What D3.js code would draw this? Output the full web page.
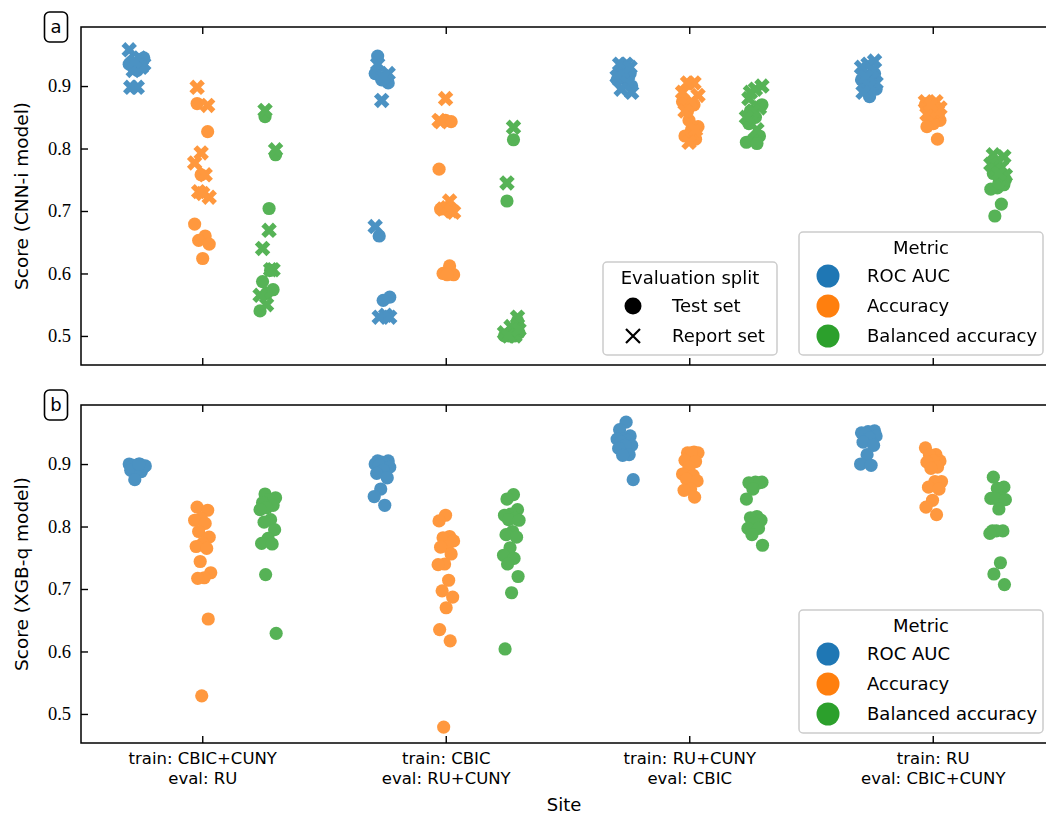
<!DOCTYPE html>
<html>
<head>
<meta charset="utf-8">
<script src="https://cdn.jsdelivr.net/npm/d3@7"></script>
<style>
  body { margin: 0; background: #fff; }
  svg { display: block; }
  .sans { font-family: "DejaVu Sans", sans-serif; }
  .serif { font-family: "Liberation Serif", "DejaVu Serif", serif; }
</style>
</head>
<body>
<svg id="chart" width="1046" height="815"></svg>
<script>
// categories
var trainLabels = ['train: CBIC+CUNY', 'train: CBIC', 'train: RU+CUNY', 'train: RU'];
var evalLabels = ['eval: RU', 'eval: RU+CUNY', 'eval: CBIC', 'eval: CBIC+CUNY'];
var metrics = ['ROC AUC', 'Accuracy', 'Balanced accuracy'];
var splits = ['Test set', 'Report set'];
var yTicks = [0.5, 0.6, 0.7, 0.8, 0.9];

// CNN-i model, test set (one list per site)
var cnnTestRoc = [
    [0.935, 0.94, 0.93, 0.945, 0.925, 0.938, 0.932, 0.928],
    [0.948, 0.905, 0.91, 0.92, 0.915, 0.66, 0.562, 0.557],
    [0.93, 0.925, 0.92, 0.915, 0.91, 0.905, 0.92, 0.9],
    [0.92, 0.915, 0.91, 0.905, 0.9, 0.895, 0.883, 0.912]
];
var cnnTestAcc = [
    [0.872, 0.827, 0.758, 0.679, 0.66, 0.653, 0.647, 0.624],
    [0.845, 0.767, 0.612, 0.6, 0.598, 0.598, 0.703, 0.843],
    [0.87, 0.86, 0.835, 0.83, 0.82, 0.815, 0.845, 0.875],
    [0.87, 0.86, 0.85, 0.845, 0.84, 0.835, 0.815, 0.855]
];
var cnnTestBal = [
    [0.851, 0.79, 0.704, 0.587, 0.574, 0.568, 0.54, 0.605],
    [0.814, 0.716, 0.524, 0.5, 0.5, 0.5, 0.5, 0.505],
    [0.87, 0.85, 0.84, 0.82, 0.815, 0.81, 0.808, 0.86],
    [0.76, 0.742, 0.737, 0.735, 0.711, 0.692, 0.75, 0.745]
];

// CNN-i model, report set
var cnnReportRoc = [
    [0.958, 0.945, 0.925, 0.935, 0.898, 0.898, 0.93, 0.94],
    [0.935, 0.92, 0.877, 0.675, 0.533, 0.53, 0.53, 0.915],
    [0.935, 0.935, 0.93, 0.92, 0.915, 0.905, 0.895, 0.89],
    [0.94, 0.935, 0.93, 0.925, 0.915, 0.905, 0.9, 0.89]
];
var cnnReportAcc = [
    [0.898, 0.869, 0.793, 0.777, 0.758, 0.731, 0.722, 0.728],
    [0.88, 0.845, 0.716, 0.703, 0.698, 0.705, 0.843, 0.7],
    [0.905, 0.905, 0.885, 0.875, 0.86, 0.83, 0.81, 0.89],
    [0.875, 0.875, 0.87, 0.865, 0.86, 0.855, 0.86, 0.87]
];
var cnnReportBal = [
    [0.861, 0.798, 0.669, 0.64, 0.606, 0.55, 0.565, 0.606],
    [0.834, 0.745, 0.53, 0.515, 0.505, 0.5, 0.5, 0.51],
    [0.9, 0.895, 0.88, 0.865, 0.86, 0.85, 0.83, 0.89],
    [0.79, 0.787, 0.78, 0.775, 0.77, 0.765, 0.757, 0.76]
];

// XGB-q model, test set
var xgbRoc = [
    [0.9, 0.9, 0.898, 0.895, 0.893, 0.89, 0.888, 0.875, 0.897, 0.9],
    [0.905, 0.905, 0.903, 0.9, 0.9, 0.898, 0.895, 0.89, 0.885, 0.878, 0.86, 0.848, 0.834],
    [0.967, 0.955, 0.945, 0.94, 0.94, 0.938, 0.935, 0.93, 0.93, 0.925, 0.915, 0.914, 0.875],
    [0.953, 0.952, 0.95, 0.95, 0.948, 0.945, 0.942, 0.935, 0.93, 0.915, 0.9, 0.898]
];
var xgbAcc = [
    [0.831, 0.826, 0.813, 0.81, 0.805, 0.792, 0.783, 0.773, 0.768, 0.765, 0.744, 0.726, 0.718, 0.717, 0.652, 0.529],
    [0.818, 0.809, 0.784, 0.782, 0.777, 0.768, 0.767, 0.756, 0.74, 0.739, 0.714, 0.697, 0.687, 0.67, 0.635, 0.617, 0.479],
    [0.919, 0.918, 0.918, 0.918, 0.906, 0.904, 0.895, 0.884, 0.882, 0.876, 0.873, 0.86, 0.858, 0.847],
    [0.926, 0.915, 0.915, 0.905, 0.905, 0.903, 0.895, 0.893, 0.872, 0.872, 0.863, 0.86, 0.842, 0.831, 0.819]
];
var xgbBal = [
    [0.852, 0.846, 0.843, 0.838, 0.834, 0.83, 0.827, 0.811, 0.807, 0.795, 0.781, 0.773, 0.772, 0.723, 0.629],
    [0.851, 0.844, 0.827, 0.82, 0.818, 0.813, 0.811, 0.81, 0.792, 0.787, 0.783, 0.766, 0.754, 0.749, 0.74, 0.72, 0.694, 0.604],
    [0.871, 0.871, 0.87, 0.87, 0.86, 0.844, 0.816, 0.814, 0.81, 0.805, 0.797, 0.797, 0.787, 0.77],
    [0.879, 0.863, 0.861, 0.845, 0.845, 0.845, 0.843, 0.828, 0.793, 0.793, 0.793, 0.789, 0.742, 0.724, 0.707]
];

var colors = ['#1f77b4', '#ff7f0e', '#2ca02c'];

var svg = d3.select('#chart');
var left = 81, right = 1055;

var x = d3.scaleBand().domain(trainLabels).range([left, right]).padding(0);
var dodge = d3.scalePoint().domain(metrics).range([-0.267 * x.step(), 0.267 * x.step()]);
var color = d3.scaleOrdinal().domain(metrics).range(colors);

// flatten lists into points; jitter is a fixed sequence, not random
function toPoints(lists, metric, split) {
    var out = [];
    lists.forEach(function(vals, s) {
        vals.forEach(function(v, i) {
            var j = ((i * 0.618034 + s * 0.29 + metrics.indexOf(metric) * 0.17) % 1) - 0.5;
            out.push({ site: trainLabels[s], metric: metric, split: split, v: v, j: j });
        });
    });
    return out;
}

var panels = [{
    top: 27, bottom: 365, tag: 'a', ylabel: 'Score (CNN-i model)', xlabels: false,
    points: [].concat(
        toPoints(cnnTestRoc, metrics[0], splits[0]),
        toPoints(cnnTestAcc, metrics[1], splits[0]),
        toPoints(cnnTestBal, metrics[2], splits[0]),
        toPoints(cnnReportRoc, metrics[0], splits[1]),
        toPoints(cnnReportAcc, metrics[1], splits[1]),
        toPoints(cnnReportBal, metrics[2], splits[1])),
    splitLegend: true
}, {
    top: 405, bottom: 743, tag: 'b', ylabel: 'Score (XGB-q model)', xlabels: true,
    points: [].concat(
        toPoints(xgbRoc, metrics[0], splits[0]),
        toPoints(xgbAcc, metrics[1], splits[0]),
        toPoints(xgbBal, metrics[2], splits[0])),
    splitLegend: false
}];

var crossPath = d3.symbol().type(d3.symbolCross).size(150)();

panels.forEach(function(p) {
    var y = d3.scaleLinear().domain([0.4535, 0.9945]).range([p.bottom, p.top]);
    var g = svg.append('g');

    // points
    var jw = 0.035 * x.step() * 2;
    var pts = g.append('g').attr('opacity', 0.8);
    pts.selectAll('circle')
        .data(p.points.filter(function(d) { return d.split === splits[0]; }))
        .enter()
        .append('circle')
        .attr('cx', function(d) { return x(d.site) + x.bandwidth() / 2 + dodge(d.metric) + d.j * jw; })
        .attr('cy', function(d) { return y(d.v); })
        .attr('r', 6.6)
        .attr('fill', function(d) { return color(d.metric); });
    pts.selectAll('path')
        .data(p.points.filter(function(d) { return d.split === splits[1]; }))
        .enter()
        .append('path')
        .attr('d', crossPath)
        .attr('transform', function(d) {
            var cx = x(d.site) + x.bandwidth() / 2 + dodge(d.metric) + d.j * jw;
            return 'translate(' + cx + ',' + y(d.v) + ') rotate(45)';
        })
        .attr('fill', function(d) { return color(d.metric); });

    // y axis, ticks pointing in
    var ya = g.append('g')
        .attr('transform', 'translate(' + left + ',0)')
        .call(d3.axisLeft(y).tickValues(yTicks).tickFormat(d3.format('.1f')).tickSize(-7).tickPadding(10));
    ya.select('.domain').remove();
    ya.selectAll('line').attr('stroke-width', 1.4);
    ya.selectAll('text').attr('class', 'serif').attr('font-size', 18.5).attr('fill', '#000').attr('font-family', null);

    // x axes top and bottom
    var xb = g.append('g')
        .attr('transform', 'translate(0,' + p.bottom + ')')
        .call(d3.axisBottom(x).tickSize(-7).tickFormat(''));
    xb.select('.domain').remove();
    xb.selectAll('line').attr('stroke-width', 1.4);
    var xt = g.append('g')
        .attr('transform', 'translate(0,' + p.top + ')')
        .call(d3.axisTop(x).tickSize(-7).tickFormat(''));
    xt.select('.domain').remove();
    xt.selectAll('line').attr('stroke-width', 1.4);

    // frame
    g.append('rect')
        .attr('x', left).attr('y', p.top)
        .attr('width', right - left).attr('height', p.bottom - p.top)
        .attr('fill', 'none').attr('stroke', '#000').attr('stroke-width', 1.5);

    if (p.xlabels) {
        var lab = g.append('g').attr('class', 'sans').attr('font-size', 16.5).attr('text-anchor', 'middle');
        trainLabels.forEach(function(t, i) {
            var cx = x(t) + x.bandwidth() / 2;
            lab.append('text').attr('x', cx).attr('y', p.bottom + 21).text(t);
            lab.append('text').attr('x', cx).attr('y', p.bottom + 41).text(evalLabels[i]);
        });
        g.append('text').attr('class', 'sans').attr('font-size', 18).attr('text-anchor', 'middle')
            .attr('x', (left + right) / 2 - 4).attr('y', p.bottom + 68).text('Site');
    }

    // y label
    g.append('text').attr('class', 'sans').attr('font-size', 18.5).attr('text-anchor', 'middle')
        .attr('transform', 'translate(28,' + (p.top + p.bottom) / 2 + ') rotate(-90)')
        .text(p.ylabel);

    // panel tag
    g.append('rect').attr('x', 44.5).attr('y', p.top - 15).attr('width', 23).attr('height', 30)
        .attr('rx', 5).attr('fill', '#fff').attr('stroke', '#000').attr('stroke-width', 1.6);
    g.append('text').attr('class', 'sans').attr('font-size', 18).attr('text-anchor', 'middle')
        .attr('x', 56).attr('y', p.top + 6).text(p.tag);

    // metric legend
    var lm = g.append('g').attr('transform', 'translate(799,' + (p.bottom - 133) + ')');
    lm.append('rect').attr('width', 244).attr('height', 123).attr('rx', 4)
        .attr('fill', '#fff').attr('fill-opacity', 0.8).attr('stroke', '#cccccc').attr('stroke-width', 1.5);
    lm.append('text').attr('class', 'sans').attr('font-size', 18).attr('text-anchor', 'middle')
        .attr('x', 122).attr('y', 22).text('Metric');
    metrics.forEach(function(m, i) {
        lm.append('circle').attr('cx', 29).attr('cy', 44 + i * 30).attr('r', 11.5).attr('fill', color(m));
        lm.append('text').attr('class', 'sans').attr('font-size', 18)
            .attr('x', 68).attr('y', 50 + i * 30).text(m);
    });

    if (p.splitLegend) {
        var ls = g.append('g').attr('transform', 'translate(603,' + (p.bottom - 103) + ')');
        ls.append('rect').attr('width', 174).attr('height', 93).attr('rx', 4)
            .attr('fill', '#fff').attr('fill-opacity', 0.8).attr('stroke', '#cccccc').attr('stroke-width', 1.5);
        ls.append('text').attr('class', 'sans').attr('font-size', 18).attr('text-anchor', 'middle')
            .attr('x', 87).attr('y', 22).text('Evaluation split');
        ls.append('circle').attr('cx', 30).attr('cy', 44).attr('r', 8.5).attr('fill', '#000');
        ls.append('path').attr('d', 'M23,67L37,81M37,67L23,81').attr('stroke', '#000').attr('stroke-width', 2.2);
        splits.forEach(function(s, i) {
            ls.append('text').attr('class', 'sans').attr('font-size', 18)
                .attr('x', 69).attr('y', 50 + i * 30).text(s);
        });
    }
});
</script>
</body>
</html>
